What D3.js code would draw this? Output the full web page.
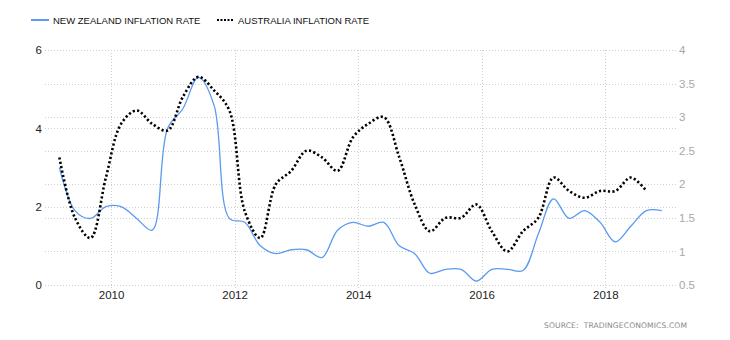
<!DOCTYPE html>
<html><head><meta charset="utf-8">
<script src="https://cdn.jsdelivr.net/npm/d3@7"></script>
<style>
body{margin:0;background:#fff;}
svg{display:block;font-family:"Liberation Sans",Arial,sans-serif;}
</style>
</head><body>
<svg id="chart" width="730" height="340"></svg>
<script>
const quarters = [
  "2009-03","2009-06","2009-09","2009-12",
  "2010-03","2010-06","2010-09","2010-12",
  "2011-03","2011-06","2011-09","2011-12",
  "2012-03","2012-06","2012-09","2012-12",
  "2013-03","2013-06","2013-09","2013-12",
  "2014-03","2014-06","2014-09","2014-12",
  "2015-03","2015-06","2015-09","2015-12",
  "2016-03","2016-06","2016-09","2016-12",
  "2017-03","2017-06","2017-09","2017-12",
  "2018-03","2018-06","2018-09","2018-12"
];
const nzInflation = [
  3.0,1.9,1.7,2.0,
  2.0,1.7,1.4,4.0,
  4.5,5.3,4.6,1.7,
  1.6,1.0,0.8,0.9,
  0.9,0.7,1.4,1.6,
  1.5,1.6,1.0,0.8,
  0.3,0.4,0.4,0.1,
  0.4,0.4,0.37,1.3,
  2.2,1.7,1.9,1.6,
  1.1,1.5,1.9,1.9
];
const auInflation = [
  2.4,1.5,1.2,2.1,
  2.9,3.1,2.9,2.8,
  3.3,3.6,3.4,3.1,
  1.6,1.2,2.0,2.2,
  2.5,2.4,2.2,2.7,
  2.9,3.0,2.4,1.7,
  1.3,1.5,1.5,1.7,
  1.3,1.0,1.3,1.5,
  2.1,1.9,1.8,1.9,
  1.9,2.1,1.9
];
const leftTicks = [0,2,4,6];
const rightTicks = [0.5,1,1.5,2,2.5,3,3.5,4];
const yearTicks = [2010,2012,2014,2016,2018];
const seriesNames = ["NEW ZEALAND INFLATION RATE","AUSTRALIA INFLATION RATE"];
const sourceText = "SOURCE:  TRADINGECONOMICS.COM";

const parse = d3.timeParse("%Y-%m");
const dates = quarters.map(q => parse(q));

const svg = d3.select("#chart");
const L = 45, R = 677, T = 50, B = 285;

const x = d3.scaleTime().domain([new Date(2008,11,6), new Date(2019,2,1)]).range([L, R]);
const yL = d3.scaleLinear().domain([0,6]).range([B, T]);
const yR = d3.scaleLinear().domain([0.5,4]).range([B, T]);

const grid = svg.append("g").attr("stroke","#cfcfcf").attr("stroke-width",1).attr("stroke-dasharray","1,2").attr("shape-rendering","crispEdges");
rightTicks.forEach(v => {
  grid.append("line").attr("x1",L).attr("x2",R).attr("y1",Math.round(yR(v))+0.5).attr("y2",Math.round(yR(v))+0.5);
});
leftTicks.forEach(v => {
  grid.append("line").attr("x1",L).attr("x2",R).attr("y1",Math.round(yL(v))+0.5).attr("y2",Math.round(yL(v))+0.5);
});
yearTicks.forEach(yr => {
  const xx = Math.round(x(new Date(yr,0,1)))+0.5;
  grid.append("line").attr("x1",xx).attr("x2",xx).attr("y1",T).attr("y2",B+4);
});

// Left axis
const axL = d3.axisLeft(yL).tickValues(leftTicks).tickSize(0).tickPadding(0).tickFormat(d3.format("d"));
const gL = svg.append("g").attr("transform",`translate(${L-3},0)`).call(axL);
gL.select(".domain").remove();
gL.selectAll("text").attr("font-size","11.5px").attr("fill","#222").attr("font-family","Liberation Sans, Arial, sans-serif");

// Right axis
const axR = d3.axisRight(yR).tickValues(rightTicks).tickSize(0).tickPadding(0).tickFormat(d => String(d));
const gR = svg.append("g").attr("transform",`translate(${R+2},0)`).call(axR);
gR.select(".domain").remove();
gR.selectAll("text").attr("font-size","11.5px").attr("fill","#a8a8a8").attr("font-family","Liberation Sans, Arial, sans-serif");

// Bottom axis
const axB = d3.axisBottom(x).tickValues(yearTicks.map(yr => new Date(yr,0,1))).tickSize(0).tickPadding(0).tickFormat(d3.timeFormat("%Y"));
const gB = svg.append("g").attr("transform",`translate(0,${B+6})`).call(axB);
gB.select(".domain").remove();
gB.selectAll("text").attr("font-size","11.5px").attr("fill","#222").attr("font-family","Liberation Sans, Arial, sans-serif");

// Lines
const curve = d3.curveCatmullRom.alpha(0.5);
const nzLine = d3.line().x((d,i) => x(dates[i])).y(d => yL(d)).curve(curve);
const auLine = d3.line().x((d,i) => x(dates[i])).y(d => yR(d)).curve(curve);

svg.append("path").datum(nzInflation).attr("d",nzLine).attr("fill","none")
  .attr("stroke","#5a9bf0").attr("stroke-width",1.3);
svg.append("path").datum(auInflation).attr("d",auLine).attr("fill","none")
  .attr("stroke","#000").attr("stroke-width",2.6).attr("stroke-dasharray","2.2,2.3");

// Legend
const lg = svg.append("g");
lg.append("line").attr("x1",31).attr("x2",49).attr("y1",20).attr("y2",20).attr("stroke","#5a9bf0").attr("stroke-width",2);
lg.append("text").attr("x",53).attr("y",24).attr("font-size","9.5px").attr("fill","#111").text(seriesNames[0]);
lg.append("line").attr("x1",217).attr("x2",234).attr("y1",20).attr("y2",20).attr("stroke","#000").attr("stroke-width",2).attr("stroke-dasharray","2,1.5");
lg.append("text").attr("x",238).attr("y",24).attr("font-size","9.5px").attr("fill","#111").text(seriesNames[1]);

// Source
svg.append("text").attr("x",544).attr("y",328).attr("font-size","7.6px").attr("fill","#888")
  .attr("font-family","DejaVu Sans, Verdana, sans-serif")
  .attr("textLength",143).attr("lengthAdjust","spacing").style("white-space","pre").text(sourceText);
</script>
</body></html>
